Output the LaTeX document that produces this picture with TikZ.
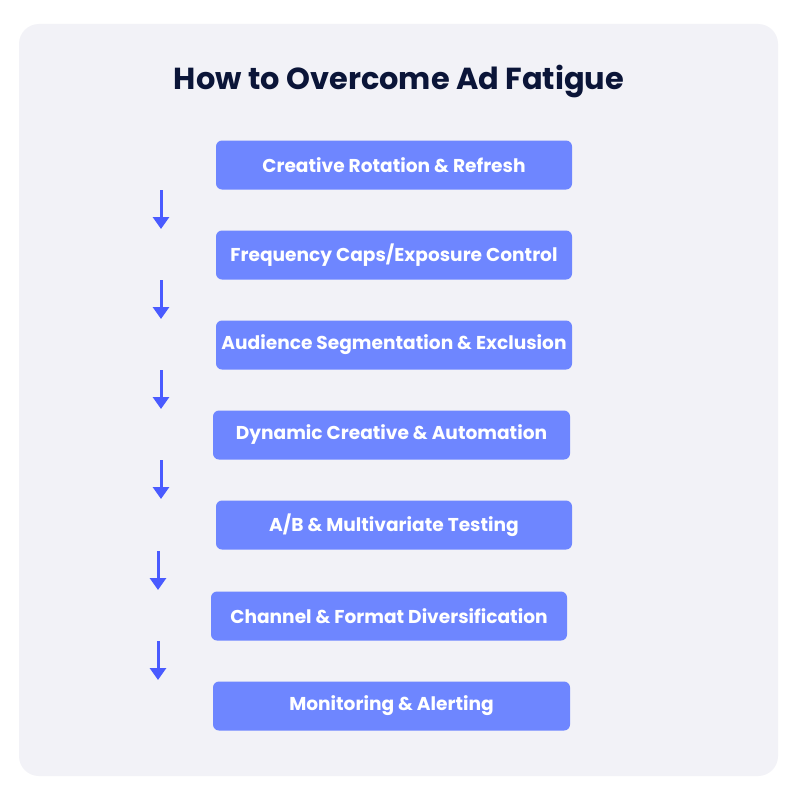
\documentclass[tikz,border=0pt]{standalone}
\usepackage{fontspec}
\setmainfont{Poppins}
\usetikzlibrary{arrows.meta}
\definecolor{panel}{HTML}{F2F2F7}
\definecolor{boxc}{HTML}{6E86FF}
\definecolor{arrc}{HTML}{4A5BFF}
\definecolor{titc}{HTML}{0B1538}
\tikzset{
  stepbox/.style={fill=boxc, rounded corners=6pt, minimum height=49pt, text=white, font=\bfseries\fontsize{18.6}{22}\selectfont, inner sep=0pt},
  flowarrow/.style={draw=arrc, line width=3pt, -{Triangle[width=16pt,length=12pt]}}
}
\begin{document}
\begin{tikzpicture}[x=1pt,y=-1pt]
\useasboundingbox (0,0) rectangle (800,800);
\fill[white] (0,0) rectangle (800,800);
\fill[panel, rounded corners=20pt] (19,24) rectangle (778,776);
\node[text=titc, font=\bfseries\fontsize{30.4}{36}\selectfont] (title) at (399,82) {How to Overcome Ad Fatigue};
\node[stepbox, minimum width=356pt] (b1) at (394,165) {Creative Rotation \& Refresh};
\node[stepbox, minimum width=356pt] (b2) at (394,255) {Frequency Caps/Exposure Control};
\node[stepbox, minimum width=356pt] (b3) at (394,345) {Audience Segmentation \& Exclusion};
\node[stepbox, minimum width=357pt] (b4) at (391.5,435) {Dynamic Creative \& Automation};
\node[stepbox, minimum width=356pt] (b5) at (394,525) {A/B \& Multivariate Testing};
\node[stepbox, minimum width=356pt] (b6) at (389,616) {Channel \& Format Diversification};
\node[stepbox, minimum width=357pt] (b7) at (391.5,706) {Monitoring \& Alerting};
\coordinate (a1s) at (161,190); \coordinate (a1e) at (161,229);
\coordinate (a2s) at (161,280); \coordinate (a2e) at (161,319);
\coordinate (a3s) at (161,370); \coordinate (a3e) at (161,409);
\coordinate (a4s) at (161,460); \coordinate (a4e) at (161,499);
\coordinate (a5s) at (158,551); \coordinate (a5e) at (158,590);
\coordinate (a6s) at (158,641); \coordinate (a6e) at (158,680);
\foreach \i in {1,...,6} { \draw[flowarrow] (a\i s) -- (a\i e); }
\end{tikzpicture}
\end{document}
